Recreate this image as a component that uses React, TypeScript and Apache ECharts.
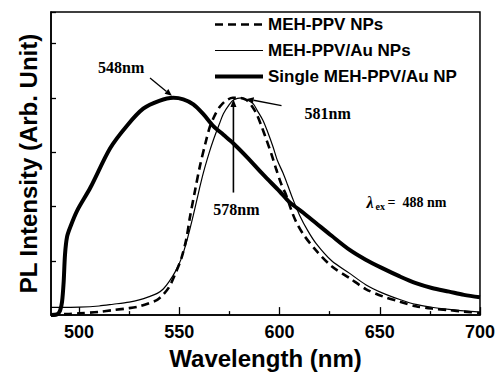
import React, { useEffect, useRef } from "react";
import * as echarts from "echarts";

// ---- Data ----
const xTickValues = [500, 550, 600, 650, 700];
const xMinorTickValues = [525, 575, 625, 675];

const seriesNames = ["MEH-PPV NPs", "MEH-PPV/Au NPs", "Single MEH-PPV/Au NP"];

// MEH-PPV NPs (dashed)
const npsWl = [486, 495, 500, 510, 517, 525, 530, 535, 539, 542, 545, 548, 551, 553.5, 555.3, 558, 560.3, 563, 565.3, 568, 570.3, 573, 576.7, 580, 583.5, 586, 588.5, 591, 593.5, 596, 598.4, 601, 603.4, 606, 608.4, 612, 618, 626, 635, 643, 651.5, 660, 668, 676, 684.6, 692, 700];
const npsVal = [0.003, 0.005, 0.008, 0.015, 0.023, 0.032, 0.04, 0.055, 0.07, 0.095, 0.13, 0.19, 0.26, 0.35, 0.45, 0.58, 0.686, 0.79, 0.868, 0.925, 0.96, 0.985, 1.0, 1.0, 0.99, 0.965, 0.927, 0.87, 0.806, 0.74, 0.67, 0.6, 0.55, 0.48, 0.427, 0.37, 0.3, 0.225, 0.17, 0.12, 0.086, 0.062, 0.041, 0.03, 0.023, 0.016, 0.01];

// MEH-PPV/Au NPs (thin)
const auWl = [486, 490, 500, 510, 517, 525, 530, 535, 539, 542, 545, 548, 551, 554, 557, 560, 562, 565, 567, 570, 572, 575, 577, 581, 584, 586.8, 589, 591.7, 594, 596.7, 599, 601.7, 604, 606.7, 610, 614, 618.3, 626, 635, 643, 651.5, 660, 668, 676, 684.6, 692, 700];
const auVal = [0.036, 0.036, 0.037, 0.042, 0.05, 0.06, 0.07, 0.085, 0.1, 0.12, 0.155, 0.2, 0.26, 0.35, 0.46, 0.58, 0.655, 0.75, 0.806, 0.88, 0.927, 0.97, 0.99, 1.0, 0.99, 0.973, 0.94, 0.897, 0.845, 0.776, 0.71, 0.655, 0.6, 0.533, 0.46, 0.39, 0.329, 0.25, 0.192, 0.14, 0.101, 0.072, 0.049, 0.036, 0.026, 0.019, 0.014];

// Single MEH-PPV/Au NP (thick)
const singleWl = [486, 489, 490.5, 491.5, 492.3, 493, 494, 495.6, 499, 505.6, 515.5, 524, 532, 540, 547, 552, 557, 562, 567, 572, 577, 584, 592, 600, 605, 612, 618, 626, 635, 643, 651.5, 660, 668, 676, 684.6, 692, 700];
const singleVal = [0, 0.003, 0.02, 0.06, 0.15, 0.28, 0.36, 0.405, 0.48, 0.586, 0.768, 0.873, 0.95, 0.986, 1.0, 0.993, 0.97, 0.925, 0.87, 0.83, 0.79, 0.725, 0.645, 0.57, 0.52, 0.47, 0.425, 0.365, 0.3, 0.255, 0.215, 0.178, 0.147, 0.125, 0.108, 0.093, 0.082];

const peakLabels = ["548nm", "581nm", "578nm"];
const excitationLabel = ["λ", "ex", "=  488 nm"];

const zip = (a: number[], b: number[]) => a.map((x, i) => [x, b[i]]);

export default function App() {
  const ref = useRef<HTMLDivElement>(null);

  useEffect(() => {
    document.body.style.margin = "0";
    const chart = echarts.init(ref.current!, null, { renderer: "svg" });
    const sans = "Liberation Sans";
    const serif = "Liberation Serif";

    const lineStyles: any[] = [
      { color: "#000", width: 2.6, type: [8, 5] },
      { color: "#000", width: 1.2, type: "solid" },
      { color: "#000", width: 4, type: "solid" },
    ];

    chart.setOption({
      animation: false,
      backgroundColor: "#fff",
      grid: {
        left: 51,
        right: 17,
        top: 12,
        bottom: 56,
        show: true,
        borderColor: "#000",
        borderWidth: 1.5,
        backgroundColor: "transparent",
      },
      legend: {
        orient: "vertical",
        left: 208,
        top: 11,
        itemWidth: 48,
        itemHeight: 14,
        itemGap: 9,
        data: seriesNames.map((n, i) => ({
          name: n,
          itemStyle: { opacity: 0 },
          lineStyle: { width: lineStyles[i].width, type: lineStyles[i].type, color: "#000" },
        })),
        textStyle: { color: "#000", fontWeight: "bold", fontSize: 17, fontFamily: sans },
      },
      xAxis: [
        {
          type: "value",
          min: 486,
          max: 700,
          name: "Wavelength (nm)",
          nameLocation: "middle",
          nameGap: 23,
          nameTextStyle: { color: "#000", fontWeight: "bold", fontSize: 24, fontFamily: sans },
          axisLine: { show: true, lineStyle: { color: "#000", width: 1.5 } },
          axisTick: { show: true, inside: true, length: 8, customValues: xTickValues, lineStyle: { color: "#000", width: 1.3 } },
          axisLabel: { customValues: xTickValues, color: "#000", fontWeight: "bold", fontSize: 18, fontFamily: sans, margin: 8 },
          splitLine: { show: false },
        },
        {
          type: "value",
          min: 486,
          max: 700,
          position: "bottom",
          axisLine: { show: false },
          axisTick: { show: true, inside: true, length: 4, customValues: xMinorTickValues, lineStyle: { color: "#000", width: 1.3 } },
          axisLabel: { show: false },
          splitLine: { show: false },
        },
      ],
      yAxis: {
        type: "value",
        min: 0,
        max: 1.395,
        interval: 0.25,
        name: "PL Intensity (Arb. Unit)",
        nameLocation: "middle",
        nameGap: 11,
        nameTextStyle: { color: "#000", fontWeight: "bold", fontSize: 24, fontFamily: sans },
        axisLine: { show: true, lineStyle: { color: "#000", width: 1.5 } },
        axisTick: { show: true, inside: true, length: 5, lineStyle: { color: "#000", width: 1.3 } },
        axisLabel: { show: false },
        splitLine: { show: false },
      },
      series: [
        {
          name: seriesNames[0],
          type: "line",
          data: zip(npsWl, npsVal),
          symbol: "none",
          smooth: 0.3,
          lineStyle: lineStyles[0],
          itemStyle: { color: "#000" },
        },
        {
          name: seriesNames[1],
          type: "line",
          data: zip(auWl, auVal),
          symbol: "none",
          smooth: 0.3,
          lineStyle: lineStyles[1],
          itemStyle: { color: "#000" },
        },
        {
          name: seriesNames[2],
          type: "line",
          data: zip(singleWl, singleVal),
          symbol: "none",
          smooth: 0.3,
          lineStyle: lineStyles[2],
          itemStyle: { color: "#000" },
        },
      ],
    });

    const px = (p: number[]) => chart.convertToPixel({ seriesIndex: 0 }, p) as number[];
    const arrow = (a: number[], b: number[], head = 7, w = 3, lw = 1.3) => {
      const p0 = px(a);
      const p1 = px(b);
      const dx = p1[0] - p0[0];
      const dy = p1[1] - p0[1];
      const L = Math.hypot(dx, dy);
      const ux = dx / L;
      const uy = dy / L;
      const bx = p1[0] - ux * head;
      const by = p1[1] - uy * head;
      return [
        { type: "line", shape: { x1: p0[0], y1: p0[1], x2: bx, y2: by }, style: { stroke: "#000", lineWidth: lw } },
        {
          type: "polygon",
          shape: { points: [[p1[0], p1[1]], [bx - uy * w, by + ux * w], [bx + uy * w, by - ux * w]] },
          style: { fill: "#000" },
        },
      ];
    };
    const label = (t: string, p: number[], size = 16) => {
      const q = px(p);
      return {
        type: "text",
        x: q[0],
        y: q[1],
        style: { text: t, fill: "#000", fontFamily: serif, fontWeight: "bold", fontSize: size, align: "center", verticalAlign: "middle" },
      };
    };
    const lam = px([643.4, 0.518]);

    chart.setOption({
      graphic: [
        label(peakLabels[0], [521, 1.141]),
        ...arrow([535.4, 1.091], [546.3, 1.009]),
        label(peakLabels[1], [624, 0.927]),
        ...arrow([601, 0.964], [583.6, 0.995]),
        label(peakLabels[2], [578.5, 0.488]),
        ...arrow([577, 0.564], [577, 0.995], 8, 3, 1.6),
        {
          type: "text",
          x: lam[0],
          y: lam[1],
          style: { text: excitationLabel[0], fill: "#000", fontFamily: serif, fontStyle: "italic", fontWeight: "bold", fontSize: 16, align: "left", verticalAlign: "middle" },
        },
        {
          type: "text",
          x: lam[0] + 9,
          y: lam[1] + 4,
          style: { text: excitationLabel[1], fill: "#000", fontFamily: serif, fontWeight: "bold", fontSize: 10, align: "left", verticalAlign: "middle" },
        },
        {
          type: "text",
          x: lam[0] + 21,
          y: lam[1],
          style: { text: excitationLabel[2], fill: "#000", fontFamily: serif, fontWeight: "bold", fontSize: 14, align: "left", verticalAlign: "middle" },
        },
      ],
    });

    return () => chart.dispose();
  }, []);

  return <div ref={ref} style={{ width: 498, height: 375 }} />;
}
